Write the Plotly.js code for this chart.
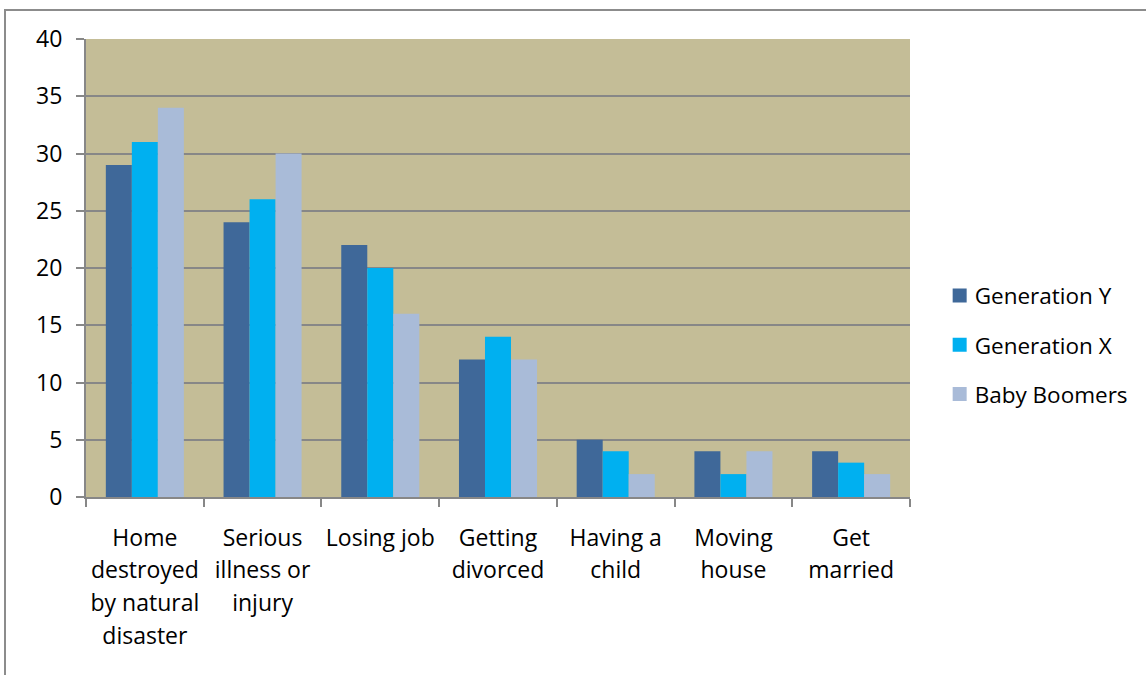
<!DOCTYPE html>
<html>
<head>
<meta charset="utf-8">
<script src="https://cdn.plot.ly/plotly-3.0.1.min.js"></script>
<style>
  html, body { margin: 0; padding: 0; background: #fff; }
  #frame { position: absolute; left: 4px; top: 9px; width: 1142px; height: 666px;
           border-left: 2px solid #8c8c8c; border-top: 2px solid #8c8c8c; box-sizing: border-box; }
  #chart { position: absolute; left: 0; top: 0; width: 1146px; height: 675px; }
</style>
</head>
<body>
<div id="frame"></div>
<div id="chart"></div>
<script>
const categories = [
  "Home<br>destroyed<br>by natural<br>disaster",
  "Serious<br>illness or<br>injury",
  "Losing job",
  "Getting<br>divorced",
  "Having a<br>child",
  "Moving<br>house",
  "Get<br>married"
];
const seriesNames = ["Generation Y", "Generation X", "Baby Boomers"];
const genY = [29, 24, 22, 12, 5, 4, 4];
const genX = [31, 26, 20, 14, 4, 2, 3];
const boomers = [34, 30, 16, 12, 2, 4, 2];
const yTicks = [0, 5, 10, 15, 20, 25, 30, 35, 40];

const colors = ["#3F6899", "#00B0F0", "#A9BBD8"];
const values = [genY, genX, boomers];

const traces = values.map((v, i) => ({
  type: "bar",
  name: seriesNames[i],
  x: categories,
  y: v,
  marker: { color: colors[i], line: { width: 0 } },
  legendgroup: "g" + i,
  hoverinfo: "x+y+name"
}));

const fam = "Open Sans, Noto Sans, sans-serif";

const layout = {
  width: 1146,
  height: 675,
  margin: { l: 86, r: 236, t: 39, b: 178, pad: 0, autoexpand: false },
  paper_bgcolor: "rgba(0,0,0,0)",
  plot_bgcolor: "#C4BD97",
  font: { family: fam, size: 23, color: "#000" },
  barmode: "group",
  bargap: 0.337,
  bargroupgap: 0,
  showlegend: true,
  legend: {
    x: 1.036, xanchor: "left",
    y: 0.332, yanchor: "middle",
    font: { family: fam, size: 22.5, color: "#000" },
    traceorder: "grouped",
    tracegroupgap: 17,
    bgcolor: "rgba(0,0,0,0)"
  },
  xaxis: {
    type: "category",
    showgrid: false,
    showline: true,
    linecolor: "#878787",
    linewidth: 2,
    ticks: "outside",
    tickson: "boundaries",
    ticklen: 8,
    tickwidth: 2,
    tickcolor: "#878787",
    tickangle: 0,
    automargin: false,
    tickfont: { family: fam, size: 23, color: "#000" },
    ticklabelstandoff: 19,
    fixedrange: true
  },
  yaxis: {
    range: [0, 40],
    tickvals: yTicks,
    ticktext: yTicks.map(String),
    showgrid: true,
    gridcolor: "#878787",
    gridwidth: 2,
    zeroline: false,
    showline: true,
    linecolor: "#878787",
    linewidth: 2,
    ticks: "outside",
    ticklen: 8,
    tickwidth: 2,
    tickcolor: "#878787",
    automargin: false,
    tickfont: { family: fam, size: 23, color: "#000" },
    ticklabelstandoff: 9,
    fixedrange: true
  }
};

Plotly.newPlot("chart", traces, layout, { displayModeBar: false, staticPlot: true }).then(gd => {
  // widen multi-line category label spacing (Excel-like line height)
  gd.querySelectorAll(".xtick text tspan.line").forEach(t => {
    const dy = t.getAttribute("dy");
    if (dy && dy.endsWith("em")) {
      const v = parseFloat(dy);
      t.setAttribute("dy", (v * 1.1) + "em");
    }
  });
  // larger legend swatches, text closer to swatch
  gd.querySelectorAll(".legendpoints path").forEach(p => {
    p.setAttribute("d", "M7,7H-7V-7H7Z");
  });
  gd.querySelectorAll(".legendtext").forEach(t => {
    t.setAttribute("x", "35");
  });
});
</script>
</body>
</html>
